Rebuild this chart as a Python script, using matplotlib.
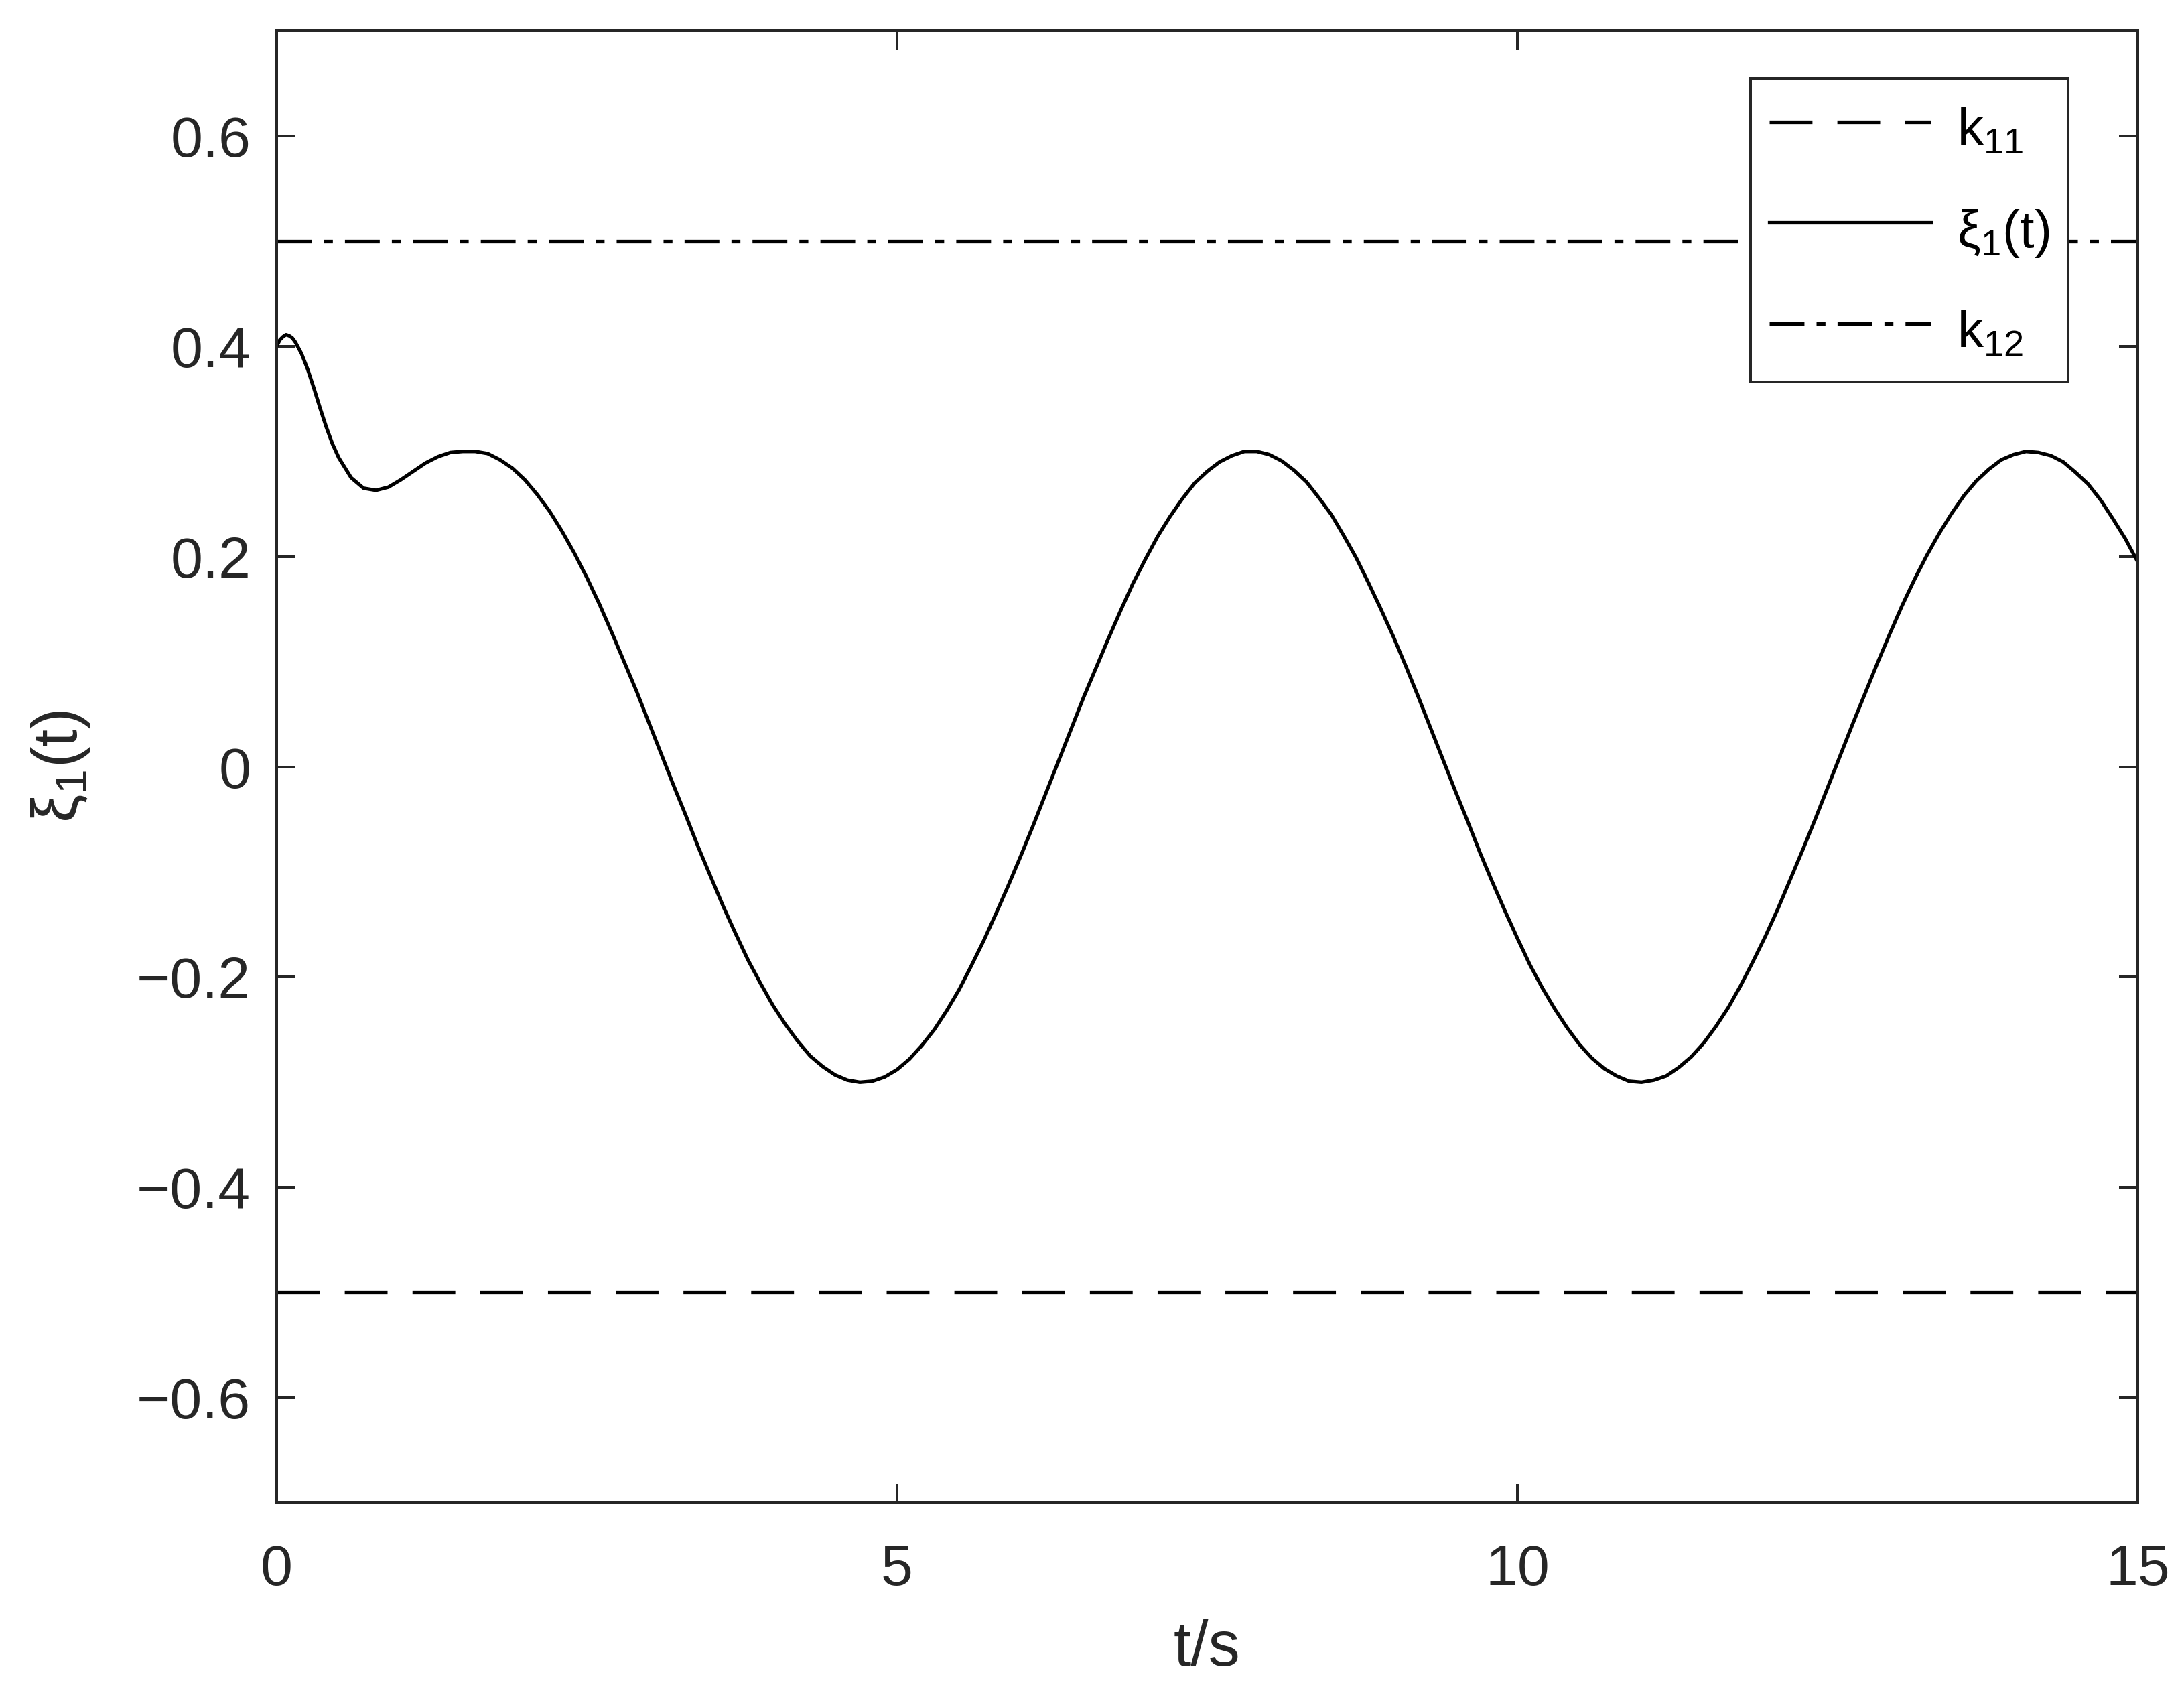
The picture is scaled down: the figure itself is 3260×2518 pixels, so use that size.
"""
xi_1(t) response with the two constraint bounds k11 / k12
"""

import matplotlib
matplotlib.use("Agg")
import matplotlib.pyplot as plt

# curve (transient first, then every 0.1 s)
t = [0.0, 0.025, 0.05, 0.075, 0.1, 0.125, 0.15, 0.2, 0.25, 0.3, 0.35, 0.4,
     0.45, 0.5, 0.6, 0.7, 0.8, 0.9, 1.0, 1.1, 1.2, 1.3, 1.4, 1.5, 1.6, 1.7,
     1.8, 1.9, 2.0, 2.1, 2.2, 2.3, 2.4, 2.5, 2.6, 2.7, 2.8, 2.9, 3.0, 3.1,
     3.2, 3.3, 3.4, 3.5, 3.6, 3.7, 3.8, 3.9, 4.0, 4.1, 4.2, 4.3, 4.4, 4.5,
     4.6, 4.7, 4.8, 4.9, 5.0, 5.1, 5.2, 5.3, 5.4, 5.5, 5.6, 5.7, 5.8, 5.9,
     6.0, 6.1, 6.2, 6.3, 6.4, 6.5, 6.6, 6.7, 6.8, 6.9, 7.0, 7.1, 7.2, 7.3,
     7.4, 7.5, 7.6, 7.7, 7.8, 7.9, 8.0, 8.1, 8.2, 8.3, 8.4, 8.5, 8.6, 8.7,
     8.8, 8.9, 9.0, 9.1, 9.2, 9.3, 9.4, 9.5, 9.6, 9.7, 9.8, 9.9, 10.0,
     10.1, 10.2, 10.3, 10.4, 10.5, 10.6, 10.7, 10.8, 10.9, 11.0, 11.1,
     11.2, 11.3, 11.4, 11.5, 11.6, 11.7, 11.8, 11.9, 12.0, 12.1, 12.2,
     12.3, 12.4, 12.5, 12.6, 12.7, 12.8, 12.9, 13.0, 13.1, 13.2, 13.3,
     13.4, 13.5, 13.6, 13.7, 13.8, 13.9, 14.0, 14.1, 14.2, 14.3, 14.4,
     14.5, 14.6, 14.7, 14.8, 14.9, 15.0]
xi1 = [0.400, 0.406, 0.409, 0.411, 0.410, 0.408, 0.404, 0.393, 0.378,
       0.360, 0.341, 0.323, 0.307, 0.294, 0.275, 0.265, 0.263, 0.266,
       0.273, 0.281, 0.289, 0.295, 0.299, 0.300, 0.300, 0.298, 0.292,
       0.284, 0.273, 0.259, 0.243, 0.224, 0.203, 0.180, 0.155, 0.128,
       0.100, 0.072, 0.042, 0.012, -0.018, -0.047, -0.077, -0.105, -0.133,
       -0.159, -0.184, -0.206, -0.227, -0.245, -0.261, -0.275, -0.285,
       -0.293, -0.298, -0.300, -0.299, -0.295, -0.288, -0.278, -0.265,
       -0.250, -0.232, -0.212, -0.189, -0.165, -0.139, -0.112, -0.084,
       -0.055, -0.025, 0.005, 0.035, 0.065, 0.093, 0.121, 0.148, 0.174,
       0.197, 0.219, 0.238, 0.255, 0.270, 0.281, 0.290, 0.296, 0.300,
       0.300, 0.297, 0.291, 0.282, 0.271, 0.256, 0.240, 0.220, 0.199,
       0.175, 0.150, 0.124, 0.096, 0.067, 0.037, 0.007, -0.023, -0.052,
       -0.082, -0.110, -0.137, -0.163, -0.188, -0.210, -0.230, -0.248,
       -0.264, -0.277, -0.287, -0.294, -0.299, -0.300, -0.298, -0.294,
       -0.286, -0.276, -0.263, -0.247, -0.229, -0.208, -0.185, -0.161,
       -0.135, -0.107, -0.079, -0.050, -0.020, 0.010, 0.040, 0.069, 0.098,
       0.126, 0.153, 0.178, 0.201, 0.222, 0.241, 0.258, 0.272, 0.283,
       0.292, 0.297, 0.300, 0.299, 0.296, 0.290, 0.280, 0.269, 0.254,
       0.236, 0.217, 0.195]

k11 = -0.5
k12 = 0.5

xticks = [0, 5, 10, 15]
yticks = [-0.6, -0.4, -0.2, 0, 0.2, 0.4, 0.6]
ytick_labels = ['\u22120.6', '\u22120.4', '\u22120.2', '0', '0.2', '0.4', '0.6']

AX_COLOR = '#262626'

plt.rcParams['font.family'] = ['Liberation Sans', 'DejaVu Sans']
plt.rcParams['mathtext.fontset'] = 'custom'
plt.rcParams['mathtext.rm'] = 'Liberation Sans'
plt.rcParams['mathtext.it'] = 'Liberation Sans'
plt.rcParams['mathtext.default'] = 'rm'
plt.rcParams['lines.scale_dashes'] = False

fig = plt.figure(figsize=(16.3, 12.59), dpi=200)
ax = fig.add_axes([0.1267, 0.1092, 0.8521, 0.8725])

ax.plot([0, 15], [k11, k11], color='k', lw=1.9, dashes=(23, 13.4), label='k$_{11}$')
ax.plot(t, xi1, color='k', lw=1.9, label=r'$\xi_1$(t)')
ax.plot([0, 15], [k12, k12], color='k', lw=1.9, dashes=(18.7, 6.5, 4.8, 6.5),
        label='k$_{12}$')

ax.set_xlim(0, 15)
ax.set_ylim(-0.7, 0.7)
ax.set_xticks(xticks)
ax.set_yticks(yticks)
ax.set_yticklabels(ytick_labels)

ax.tick_params(axis='both', direction='in', length=10, width=1.44,
               colors=AX_COLOR, labelsize=31, top=True, right=True)
ax.tick_params(axis='x', pad=22)
ax.tick_params(axis='y', pad=14)
for sp in ax.spines.values():
    sp.set_linewidth(1.44)
    sp.set_color(AX_COLOR)

ax.set_xlabel('t/s', fontsize=34, color=AX_COLOR, labelpad=12)
ax.set_ylabel(r'$\xi_1$(t)', fontsize=34, color=AX_COLOR, labelpad=24)

leg = ax.legend(loc='upper right', bbox_to_anchor=(0.9626, 0.9677),
                borderaxespad=0, fontsize=28, handlelength=3.09,
                handleheight=1.5, handletextpad=0.5, borderpad=0.36,
                labelspacing=0.72, fancybox=False, framealpha=1)
leg.get_frame().set_edgecolor(AX_COLOR)
leg.get_frame().set_linewidth(1.44)
for txt in leg.get_texts():
    txt.set_color('k')

fig.savefig('out.png', dpi=200)
